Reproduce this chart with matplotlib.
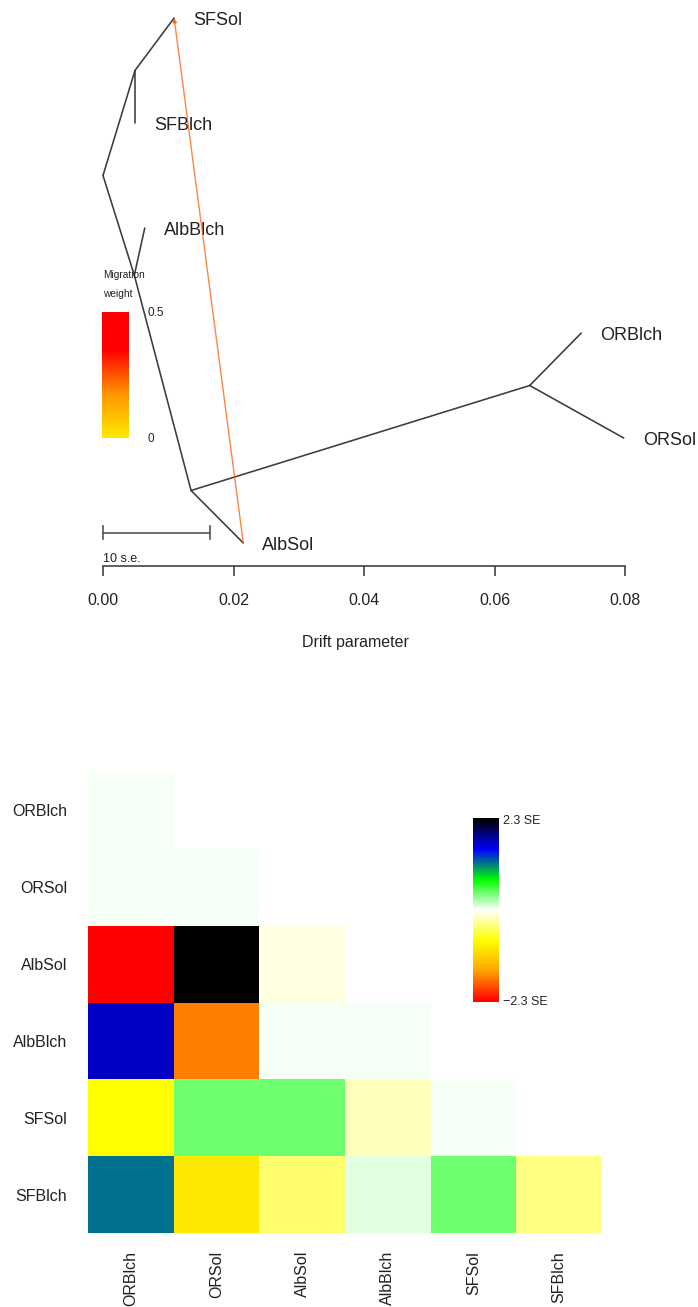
import numpy as np
import matplotlib
matplotlib.use('Agg')
import matplotlib.pyplot as plt
from matplotlib.colors import LinearSegmentedColormap

plt.rcParams['font.family'] = ['Liberation Sans', 'DejaVu Sans']

# tree nodes: drift parameter (x) and vertical position (y)
node_names = ['root', 'nSF', 'SFSol', 'SFBlch', 'nAlb', 'AlbBlch', 'nB', 'AlbSol', 'nOR', 'ORBlch', 'ORSol']
node_drift = [0.0, 0.0049, 0.0109, 0.0049, 0.0048, 0.0064, 0.0135, 0.0215, 0.0654, 0.0733, 0.0798]
node_ypos = [1.5, 0.5, 0.0, 1.0, 2.45, 2.0, 4.5, 5.0, 3.5, 3.0, 4.0]
edge_from = ['root', 'nSF', 'nSF', 'root', 'nAlb', 'nAlb', 'nB', 'nB', 'nOR', 'nOR']
edge_to = ['nSF', 'SFSol', 'SFBlch', 'nAlb', 'AlbBlch', 'nB', 'AlbSol', 'nOR', 'ORBlch', 'ORSol']
leaves = ['SFSol', 'SFBlch', 'AlbBlch', 'ORBlch', 'ORSol', 'AlbSol']

# migration edge
mig_from = 'AlbSol'
mig_to = 'SFSol'
mig_weight = 0.24
se10 = 0.0164  # length of 10 standard errors

drift_ticks = [0.00, 0.02, 0.04, 0.06, 0.08]

# residual matrix (lower triangle, in SE units)
pops = ['ORBlch', 'ORSol', 'AlbSol', 'AlbBlch', 'SFSol', 'SFBlch']
resid_rows = [
    [0.03],
    [0.03, 0.03],
    [-2.3, 2.3, -0.08],
    [1.72, -1.7, 0.03, 0.03],
    [-0.77, 0.42, 0.42, -0.2, 0.03],
    [1.2, -0.95, -0.43, 0.1, 0.42, -0.4],
]
resid_max = 2.3

W, H = 698, 1307


def fx(px):
    return px / W


def fy(py):
    return 1 - py / H


fig = plt.figure(figsize=(W / 100, H / 100), dpi=100)

pos = {n: (x, y) for n, x, y in zip(node_names, node_drift, node_ypos)}

# ---------------- tree panel
ax = fig.add_axes([fx(103), fy(543), fx(625) - fx(103), fy(18) - fy(543)])
ax.set_xlim(0, 0.08)
ax.set_ylim(5, 0)

line_col = '#3c3c3c'
for a, b in zip(edge_from, edge_to):
    ax.plot([pos[a][0], pos[b][0]], [pos[a][1], pos[b][1]], color=line_col, lw=1.15,
            clip_on=False, solid_capstyle='round')

for leaf in leaves:
    ax.annotate(leaf, pos[leaf], xytext=(13.7, -1.5), textcoords='offset points',
                va='center', ha='left', fontsize=13, color='#222222', annotation_clip=False)

mig_cmap = LinearSegmentedColormap.from_list(
    'mig', [(0, '#FFE800'), (0.35, '#FF9500'), (0.7, '#FF0000'), (1, '#FF0000')])
ax.annotate('', xy=pos[mig_to], xytext=pos[mig_from],
            arrowprops=dict(arrowstyle='-|>', color=mig_cmap(mig_weight / 0.5), lw=1.0,
                            alpha=0.75, mutation_scale=6, shrinkA=0, shrinkB=0),
            annotation_clip=False)

# scale bar
ybar = 4.9
ax.plot([0, se10], [ybar, ybar], color='#555555', lw=1.2, clip_on=False)
for xe in [0, se10]:
    ax.plot([xe, xe], [ybar - 0.065, ybar + 0.065], color='#555555', lw=1.2, clip_on=False)
ax.text(0, 5.15, '10 s.e.', fontsize=9, va='center', ha='left', color='#222222', clip_on=False)

for s in ['left', 'top', 'right']:
    ax.spines[s].set_visible(False)
ax.spines['bottom'].set_position(('outward', 16.5))
ax.spines['bottom'].set_bounds(0, 0.08)
ax.spines['bottom'].set_color('#333333')
ax.spines['bottom'].set_linewidth(1.1)
ax.set_yticks([])
ax.set_xticks(drift_ticks)
ax.set_xticklabels(['%.2f' % t for t in drift_ticks], fontsize=11.5, color='#222222')
ax.tick_params(axis='x', length=7.5, width=1.1, color='#333333', pad=12)
ax.patch.set_alpha(0)
fig.text(fx(355), fy(643), 'Drift parameter', fontsize=11.5, ha='center', va='center', color='#222222')

# migration weight legend
lax = fig.add_axes([fx(102), fy(438), fx(129) - fx(102), fy(312) - fy(438)])
grad = np.linspace(0, 1, 150).reshape(-1, 1)
lax.imshow(grad, aspect='auto', cmap=mig_cmap, origin='lower', extent=[0, 1, 0, 1])
lax.set_axis_off()
fig.text(fx(103), fy(275), 'Migration', fontsize=7.3, va='center', ha='left', color='#222222')
fig.text(fx(103), fy(294), 'weight', fontsize=7.3, va='center', ha='left', color='#222222')
fig.text(fx(148), fy(313), '0.5', fontsize=8.5, va='center', ha='left', color='#222222')
fig.text(fx(148), fy(439), '0', fontsize=8.5, va='center', ha='left', color='#222222')

# ---------------- residual heatmap
n = len(pops)
resid = np.full((n, n), np.nan)
for i, row in enumerate(resid_rows):
    resid[i, :len(row)] = row
resid_m = np.ma.masked_invalid(resid)

# red -> orange -> yellow -> white -> green -> blue -> black, 80 steps
resid_cmap = LinearSegmentedColormap.from_list(
    'resid', ['#FF0000', '#FFA500', '#FFFF00', '#FFFFFF', '#00FF00', '#0000FF', '#000000'], N=80)

ax2 = fig.add_axes([fx(88), fy(1233), fx(602) - fx(88), fy(772) - fy(1233)])
ax2.pcolormesh(np.arange(n + 1), np.arange(n + 1), resid_m, cmap=resid_cmap,
               vmin=-resid_max, vmax=resid_max)
ax2.set_xlim(0, n)
ax2.set_ylim(n, 0)
ax2.set_xticks(np.arange(n) + 0.5)
ax2.set_xticklabels(pops, rotation=90, va='top', ha='center', fontsize=11.5, color='#222222')
ax2.set_yticks(np.arange(n) + 0.5)
ax2.set_yticklabels(pops, fontsize=11.5, color='#222222')
ax2.tick_params(axis='x', length=0, pad=13)
ax2.tick_params(axis='y', length=0, pad=15)
for s in ax2.spines.values():
    s.set_visible(False)

# residual colour legend
cax = fig.add_axes([fx(473), fy(1002), fx(499) - fx(473), fy(818) - fy(1002)])
cax.imshow(np.linspace(-resid_max, resid_max, 80).reshape(-1, 1), aspect='auto',
           cmap=resid_cmap, vmin=-resid_max, vmax=resid_max, origin='lower', extent=[0, 1, 0, 1])
cax.set_axis_off()
fig.text(fx(503), fy(821), '%.1f SE' % resid_max, fontsize=9, va='center', ha='left', color='#222222')
fig.text(fx(503), fy(1002), '\u2212%.1f SE' % resid_max, fontsize=9, va='center', ha='left', color='#222222')

fig.savefig('out.png', dpi=100)
